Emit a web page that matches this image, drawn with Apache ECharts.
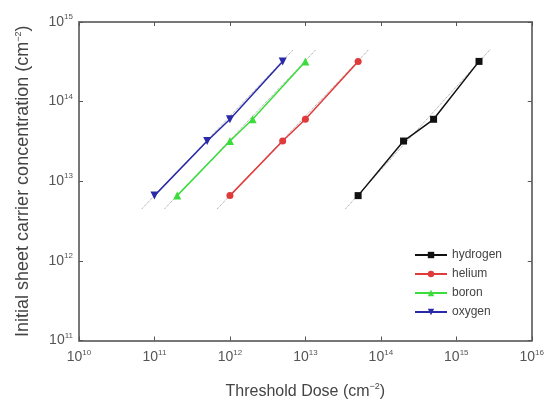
<!DOCTYPE html>
<html>
<head>
<meta charset="utf-8">
<script src="https://cdn.jsdelivr.net/npm/echarts@6/dist/echarts.min.js"></script>
<style>html,body{margin:0;padding:0;background:#fff}#c{width:547px;height:405px}</style>
</head>
<body>
<div id="c"></div>
<script>
// Data (log-log)
var concentration = [6.6e12, 3.2e13, 6.0e13, 3.2e14];
var hydrogenDose = [5e13, 2e14, 5e14, 2e15];
var heliumDose   = [1e12, 5e12, 1e13, 5e13];
var boronDose    = [2e11, 1e12, 2e12, 1e13];
var oxygenDose   = [1e11, 5e11, 1e12, 5e12];
// dotted fit lines (endpoints)
var fitConc = [4.5e12, 4.5e14];
var hydrogenFit = [3.4e13, 2.8e15];
var heliumFit   = [6.8e11, 6.9e13];
var boronFit    = [1.36e11, 1.38e13];
var oxygenFit   = [6.8e10, 6.9e12];
var xTicks = [1e10, 1e11, 1e12, 1e13, 1e14, 1e15, 1e16];
var yTicks = [1e11, 1e12, 1e13, 1e14, 1e15];

function pairs(xs, ys) { return xs.map(function (x, i) { return [x, ys[i]]; }); }
function expLabel(v) {
  var e = Math.round(Math.log10(v));
  return '{b|10}{s|' + e + '}';
}
var font = 'Liberation Sans';
var labelRich = {
  b: { fontSize: 14, color: '#555', fontFamily: font },
  s: { fontSize: 8, color: '#555', fontFamily: font, padding: [0, 0, 10, 0] }
};
var axisColor = '#777';

var series = [];
var defs = [
  { name: 'hydrogen', color: '#111111', symbol: 'rect', rot: 0, dose: hydrogenDose, fit: hydrogenFit, size: 7 },
  { name: 'helium', color: '#e03a3a', symbol: 'circle', rot: 0, dose: heliumDose, fit: heliumFit, size: 7 },
  { name: 'boron', color: '#3ddc3d', symbol: 'triangle', rot: 0, dose: boronDose, fit: boronFit, size: 8 },
  { name: 'oxygen', color: '#2a2aa8', symbol: 'triangle', rot: 180, dose: oxygenDose, fit: oxygenFit, size: 8 }
];
defs.forEach(function (d) {
  series.push({
    name: d.name + ' fit', type: 'line', data: pairs(d.fit, fitConc),
    symbol: 'none', silent: true, z: 1,
    lineStyle: { color: '#999', width: 1, type: 'dotted' }
  });
});
defs.forEach(function (d) {
  series.push({
    name: d.name, type: 'line', data: pairs(d.dose, concentration),
    symbol: d.symbol, symbolRotate: d.rot, symbolSize: d.size, z: 3,
    itemStyle: { color: d.color },
    lineStyle: { color: d.color, width: 1.5 }
  });
});

var titleRich = function (size) {
  return { a: { fontSize: size, color: '#444', fontFamily: font },
           s: { fontSize: 9, color: '#444', fontFamily: font, padding: [0, 0, 10, 0] } };
};

var chart = echarts.init(document.getElementById('c'), null, { renderer: 'canvas' });
chart.setOption({
  animation: false,
  backgroundColor: '#fff',
  grid: { left: 79, right: 15, top: 22, bottom: 63 },
  legend: {
    data: ['hydrogen', 'helium', 'boron', 'oxygen'],
    orient: 'vertical', left: 409, top: 244,
    itemWidth: 32, itemHeight: 8, itemGap: 7,
    textStyle: { fontSize: 12, color: '#444', fontFamily: font }
  },
  xAxis: [{
    type: 'log', logBase: 10, min: 1e10, max: 1e16,
    name: '{a|Threshold Dose (cm}{s|−2}{a|)}',
    nameLocation: 'middle', nameGap: 42,
    nameTextStyle: { rich: titleRich(16) },
    axisLine: { lineStyle: { color: axisColor, width: 2 } },
    axisTick: { inside: true, length: 4, lineStyle: { color: '#555' } },
    axisLabel: { formatter: expLabel, rich: labelRich, margin: 8 },
    splitLine: { show: false }, minorTick: { show: false }
  }, {
    type: 'log', logBase: 10, min: 1e10, max: 1e16, position: 'top',
    axisLine: { lineStyle: { color: axisColor, width: 2 } },
    axisTick: { inside: true, length: 4, lineStyle: { color: '#555' } },
    axisLabel: { show: false }, splitLine: { show: false }
  }],
  yAxis: [{
    type: 'log', logBase: 10, min: 1e11, max: 1e15,
    name: '{a|Initial sheet carrier concentration (cm}{s|−2}{a|)}',
    nameLocation: 'middle', nameGap: 46, nameRotate: 90,
    nameTextStyle: { rich: titleRich(18) },
    axisLine: { lineStyle: { color: axisColor, width: 2 } },
    axisTick: { inside: true, length: 4, lineStyle: { color: '#555' } },
    axisLabel: { formatter: expLabel, rich: labelRich, margin: 6 },
    splitLine: { show: false }
  }, {
    type: 'log', logBase: 10, min: 1e11, max: 1e15, position: 'right',
    axisLine: { lineStyle: { color: axisColor, width: 2 } },
    axisTick: { inside: true, length: 4, lineStyle: { color: '#555' } },
    axisLabel: { show: false }, splitLine: { show: false }
  }],
  series: series
});
</script>
</body>
</html>
